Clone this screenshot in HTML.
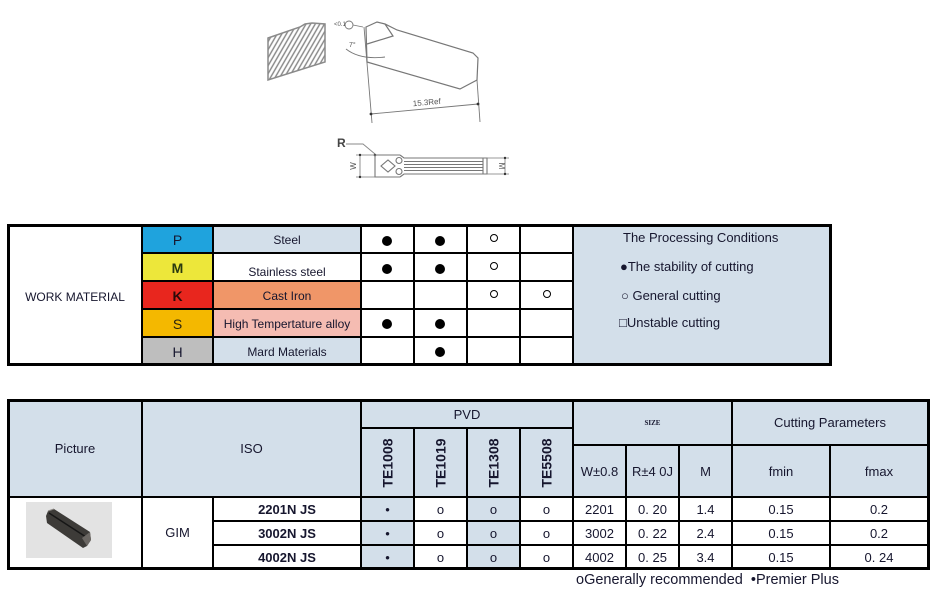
<!DOCTYPE html>
<html><head><meta charset="utf-8">
<style>
body{margin:0;width:933px;height:595px;background:#fff;position:relative;overflow:hidden;font-family:"Liberation Sans",Arial,sans-serif;color:#16162e}
.a{position:absolute}
.c{position:absolute;display:flex;align-items:center;justify-content:center;white-space:nowrap;font-size:12px}
.l{position:absolute;white-space:nowrap;font-size:13px;line-height:16px}
.h{position:absolute;height:2px;background:#000}
.v{position:absolute;width:2px;background:#000}
.fd{position:absolute;width:10px;height:10px;border-radius:50%;background:#000}
.hd{position:absolute;width:6px;height:6px;border-radius:50%;border:1px solid #000;background:#fff}
.b{font-weight:bold}
.r{display:inline-block;transform:rotate(-90deg);font-weight:bold;font-size:14px}
.t2{font-size:13px}
</style></head><body>

<!-- Technical drawing -->
<svg class="a" style="left:0;top:0" width="933" height="200" viewBox="0 0 933 200">
<defs>
<pattern id="hp" width="4" height="4" patternUnits="userSpaceOnUse" patternTransform="rotate(30)">
<line x1="1" y1="0" x2="1" y2="4" stroke="#858585" stroke-width="1.4"/>
</pattern>
</defs>
<polygon points="268,38 300,27 305,24 312,23 325,24 325,62 268,80" fill="url(#hp)" stroke="#8a8a8a" stroke-width="1.5"/>
<g fill="none" stroke="#777" stroke-width="1.2">
<polygon points="366,27 377,22 385,24 397,30 473,53 478,58 477,80 460,89 367,62"/>
<line x1="364" y1="27" x2="372" y2="123" stroke-width="0.9"/>
<polyline points="385,24 393,36 367,44"/>
<path d="M346,49 Q360,60 385,57" stroke-width="0.9"/>
<line x1="477" y1="80" x2="480" y2="122" stroke-width="0.9"/>
<line x1="371" y1="114" x2="478" y2="104" stroke-width="0.9"/>
<circle cx="349" cy="25" r="4" stroke-width="0.9"/>
<line x1="353" y1="25" x2="363" y2="27" stroke-width="0.8"/>
</g>
<circle cx="371" cy="114" r="1.4" fill="#333"/>
<circle cx="478" cy="104" r="1.4" fill="#333"/>
<text x="334" y="26" font-size="6" fill="#555" font-family="Liberation Sans">&lt;0.1</text>
<text x="349" y="47" font-size="7" fill="#555" font-family="Liberation Sans">7°</text>
<text x="427" y="105" font-size="8" fill="#555" font-family="Liberation Sans" text-anchor="middle" transform="rotate(-5 427 105)">15.3Ref</text>

<!-- bottom view -->
<text x="337" y="147" font-size="12" fill="#444" font-weight="bold" font-family="Liberation Sans">R</text>
<polyline points="346,144 363,144 375,154" fill="none" stroke="#888" stroke-width="0.9"/>
<circle cx="375" cy="155" r="1.3" fill="#333"/>
<g fill="none" stroke="#777" stroke-width="1.1">
<polyline points="400,155 375,155 375,177 400,177"/>
<polyline points="400,155 404,158 487,158 487,174 404,174 400,177"/>
<line x1="483" y1="158" x2="483" y2="174"/>
<polygon points="381,166 388,160 395,166 388,172"/>
<circle cx="399" cy="160.5" r="3"/>
<circle cx="399" cy="171.5" r="3"/>
<line x1="404" y1="161.5" x2="483" y2="161.5"/>
<line x1="404" y1="164.5" x2="483" y2="164.5"/>
<line x1="404" y1="167.5" x2="483" y2="167.5"/>
<line x1="404" y1="170.5" x2="483" y2="170.5"/>
<line x1="356" y1="155" x2="375" y2="155" stroke-width="0.8"/>
<line x1="356" y1="177" x2="375" y2="177" stroke-width="0.8"/>
<line x1="360" y1="155" x2="360" y2="177" stroke-width="0.8"/>
<line x1="487" y1="158" x2="509" y2="158" stroke-width="0.8"/>
<line x1="487" y1="174" x2="509" y2="174" stroke-width="0.8"/>
<line x1="505" y1="158" x2="505" y2="174" stroke-width="0.8"/>
</g>
<circle cx="360" cy="155" r="1.2" fill="#333"/>
<circle cx="360" cy="177" r="1.2" fill="#333"/>
<circle cx="505" cy="158" r="1.2" fill="#333"/>
<circle cx="505" cy="174" r="1.2" fill="#333"/>
<text x="356" y="166" font-size="8" fill="#555" font-family="Liberation Sans" text-anchor="middle" transform="rotate(-90 356 166)">W</text>
<text x="499" y="166" font-size="8" fill="#555" font-family="Liberation Sans" text-anchor="middle" transform="rotate(90 499 166)">M</text>
</svg>

<!-- TABLE 1 backgrounds -->
<div class="a" style="left:142px;top:225px;width:71px;height:28px;background:#1fa3dd"></div>
<div class="a" style="left:142px;top:253px;width:71px;height:28px;background:#ede73a"></div>
<div class="a" style="left:142px;top:281px;width:71px;height:28px;background:#e8261e"></div>
<div class="a" style="left:142px;top:309px;width:71px;height:28px;background:#f4b800"></div>
<div class="a" style="left:142px;top:337px;width:71px;height:28px;background:#bebebe"></div>
<div class="a" style="left:213px;top:225px;width:148px;height:28px;background:#d3dfea"></div>
<div class="a" style="left:213px;top:281px;width:148px;height:28px;background:#f09668"></div>
<div class="a" style="left:213px;top:309px;width:148px;height:28px;background:#f5bcb2"></div>
<div class="a" style="left:213px;top:337px;width:148px;height:28px;background:#d3dfea"></div>
<div class="a" style="left:573px;top:225px;width:257px;height:140px;background:#d3dfea"></div>

<!-- TABLE 1 text -->
<div class="c" style="left:8px;top:225px;width:134px;height:140px;padding-top:2px">WORK MATERIAL</div>
<div class="c" style="left:142px;top:226px;width:71px;height:28px;font-size:14px">P</div>
<div class="c b" style="left:142px;top:254px;width:71px;height:28px;font-size:14px;color:#2a3a10">M</div>
<div class="c b" style="left:142px;top:282px;width:71px;height:28px;font-size:14px;color:#2a0a0a">K</div>
<div class="c" style="left:142px;top:310px;width:71px;height:28px;font-size:14px;color:#2a2410">S</div>
<div class="c" style="left:142px;top:338px;width:71px;height:28px;font-size:14px">H</div>
<div class="c" style="left:213px;top:226px;width:148px;height:28px">Steel</div>
<div class="c" style="left:213px;top:258px;width:148px;height:28px">Stainless steel</div>
<div class="c" style="left:213px;top:282px;width:148px;height:28px">Cast Iron</div>
<div class="c" style="left:213px;top:310px;width:148px;height:28px">High Tempertature alloy</div>
<div class="c" style="left:213px;top:338px;width:148px;height:28px">Mard Materials</div>

<!-- dots -->
<div class="fd" style="left:382px;top:236px"></div>
<div class="fd" style="left:435px;top:236px"></div>
<div class="hd" style="left:490px;top:234px"></div>
<div class="fd" style="left:382px;top:264px"></div>
<div class="fd" style="left:435px;top:264px"></div>
<div class="hd" style="left:490px;top:262px"></div>
<div class="hd" style="left:490px;top:290px"></div>
<div class="hd" style="left:543px;top:290px"></div>
<div class="fd" style="left:382px;top:319px"></div>
<div class="fd" style="left:435px;top:319px"></div>
<div class="fd" style="left:435px;top:347px"></div>

<!-- legend -->
<div class="l" style="left:623px;top:230px">The Processing Conditions</div>
<div class="l" style="left:620px;top:259px">●The stability of cutting</div>
<div class="l" style="left:621px;top:288px">○ General cutting</div>
<div class="l" style="left:619px;top:315px">□Unstable cutting</div>

<!-- TABLE 1 lines -->
<div class="h" style="left:7px;top:224px;width:825px;height:3px"></div>
<div class="h" style="left:7px;top:363px;width:825px;height:3px"></div>
<div class="h" style="left:142px;top:252px;width:432px"></div>
<div class="h" style="left:142px;top:280px;width:432px"></div>
<div class="h" style="left:142px;top:308px;width:432px"></div>
<div class="h" style="left:142px;top:336px;width:432px"></div>
<div class="v" style="left:7px;top:224px;height:142px;width:3px"></div>
<div class="v" style="left:141px;top:224px;height:142px"></div>
<div class="v" style="left:212px;top:224px;height:142px"></div>
<div class="v" style="left:360px;top:224px;height:142px"></div>
<div class="v" style="left:413px;top:224px;height:142px"></div>
<div class="v" style="left:466px;top:224px;height:142px"></div>
<div class="v" style="left:519px;top:224px;height:142px"></div>
<div class="v" style="left:572px;top:224px;height:142px"></div>
<div class="v" style="left:829px;top:224px;height:142px;width:3px"></div>

<!-- TABLE 2 backgrounds -->
<div class="a" style="left:8px;top:400px;width:920px;height:97px;background:#d3dfea"></div>
<div class="a" style="left:361px;top:497px;width:53px;height:71px;background:#d3dfea"></div>
<div class="a" style="left:467px;top:497px;width:53px;height:71px;background:#d3dfea"></div>

<!-- picture -->
<div class="a" style="left:26px;top:502px;width:86px;height:56px;background:#e3e3e3"></div>
<svg class="a" style="left:26px;top:502px" width="86" height="56" viewBox="0 0 86 56">
<polygon points="22,9 28,7 64,30 65,38 61,44 57,46 21,21 20,14" fill="#3d3b38"/>
<line x1="23" y1="11" x2="60" y2="35" stroke="#161616" stroke-width="1.4"/>
<polygon points="56,36 64,30 65,38 61,44" fill="#6b6763"/>
<line x1="22" y1="9" x2="28" y2="7" stroke="#8a8682" stroke-width="1"/>
</svg>

<!-- TABLE 2 text -->
<div class="c t2" style="left:8px;top:400px;width:134px;height:97px">Picture</div>
<div class="c t2" style="left:142px;top:400px;width:219px;height:97px">ISO</div>
<div class="c t2" style="left:361px;top:400px;width:212px;height:28px">PVD</div>
<div class="c" style="left:361px;top:428px;width:53px;height:69px"><span class="r">TE1008</span></div>
<div class="c" style="left:414px;top:428px;width:53px;height:69px"><span class="r">TE1019</span></div>
<div class="c" style="left:467px;top:428px;width:53px;height:69px"><span class="r">TE1308</span></div>
<div class="c" style="left:520px;top:428px;width:53px;height:69px"><span class="r">TE5508</span></div>
<div class="c" style="left:573px;top:400px;width:159px;height:45px;font-size:7px;font-family:'Liberation Serif',serif;font-weight:bold">SIZE</div>
<div class="c t2" style="left:732px;top:400px;width:196px;height:45px">Cutting Parameters</div>
<div class="c t2" style="left:573px;top:445px;width:53px;height:52px">W±0.8</div>
<div class="c t2" style="left:626px;top:445px;width:53px;height:52px">R±4 0J</div>
<div class="c t2" style="left:679px;top:445px;width:53px;height:52px">M</div>
<div class="c t2" style="left:732px;top:445px;width:98px;height:52px">fmin</div>
<div class="c t2" style="left:830px;top:445px;width:98px;height:52px">fmax</div>

<div class="c t2" style="left:142px;top:497px;width:71px;height:71px">GIM</div>
<div class="c t2 b" style="left:213px;top:497px;width:148px;height:24px">2201N JS</div>
<div class="c t2 b" style="left:213px;top:521px;width:148px;height:24px">3002N JS</div>
<div class="c t2 b" style="left:213px;top:545px;width:148px;height:24px">4002N JS</div>

<div class="c t2" style="left:361px;top:497px;width:53px;height:24px">•</div>
<div class="c t2" style="left:414px;top:497px;width:53px;height:24px">o</div>
<div class="c t2" style="left:467px;top:497px;width:53px;height:24px">o</div>
<div class="c t2" style="left:520px;top:497px;width:53px;height:24px">o</div>
<div class="c t2" style="left:573px;top:497px;width:53px;height:24px">2201</div>
<div class="c t2" style="left:626px;top:497px;width:53px;height:24px">0. 20</div>
<div class="c t2" style="left:679px;top:497px;width:53px;height:24px">1.4</div>
<div class="c t2" style="left:732px;top:497px;width:98px;height:24px">0.15</div>
<div class="c t2" style="left:830px;top:497px;width:98px;height:24px">0.2</div>

<div class="c t2" style="left:361px;top:521px;width:53px;height:24px">•</div>
<div class="c t2" style="left:414px;top:521px;width:53px;height:24px">o</div>
<div class="c t2" style="left:467px;top:521px;width:53px;height:24px">o</div>
<div class="c t2" style="left:520px;top:521px;width:53px;height:24px">o</div>
<div class="c t2" style="left:573px;top:521px;width:53px;height:24px">3002</div>
<div class="c t2" style="left:626px;top:521px;width:53px;height:24px">0. 22</div>
<div class="c t2" style="left:679px;top:521px;width:53px;height:24px">2.4</div>
<div class="c t2" style="left:732px;top:521px;width:98px;height:24px">0.15</div>
<div class="c t2" style="left:830px;top:521px;width:98px;height:24px">0.2</div>

<div class="c t2" style="left:361px;top:545px;width:53px;height:24px">•</div>
<div class="c t2" style="left:414px;top:545px;width:53px;height:24px">o</div>
<div class="c t2" style="left:467px;top:545px;width:53px;height:24px">o</div>
<div class="c t2" style="left:520px;top:545px;width:53px;height:24px">o</div>
<div class="c t2" style="left:573px;top:545px;width:53px;height:24px">4002</div>
<div class="c t2" style="left:626px;top:545px;width:53px;height:24px">0. 25</div>
<div class="c t2" style="left:679px;top:545px;width:53px;height:24px">3.4</div>
<div class="c t2" style="left:732px;top:545px;width:98px;height:24px">0.15</div>
<div class="c t2" style="left:830px;top:545px;width:98px;height:24px">0. 24</div>

<!-- TABLE 2 lines -->
<div class="h" style="left:7px;top:399px;width:923px;height:3px"></div>
<div class="h" style="left:7px;top:567px;width:923px;height:3px"></div>
<div class="h" style="left:7px;top:496px;width:923px"></div>
<div class="h" style="left:361px;top:427px;width:212px"></div>
<div class="h" style="left:573px;top:444px;width:356px"></div>
<div class="h" style="left:213px;top:520px;width:716px"></div>
<div class="h" style="left:213px;top:544px;width:716px"></div>
<div class="v" style="left:7px;top:399px;height:171px;width:3px"></div>
<div class="v" style="left:141px;top:399px;height:171px"></div>
<div class="v" style="left:212px;top:496px;height:73px"></div>
<div class="v" style="left:360px;top:399px;height:171px"></div>
<div class="v" style="left:413px;top:427px;height:142px"></div>
<div class="v" style="left:466px;top:427px;height:142px"></div>
<div class="v" style="left:519px;top:427px;height:142px"></div>
<div class="v" style="left:572px;top:399px;height:171px"></div>
<div class="v" style="left:625px;top:444px;height:125px"></div>
<div class="v" style="left:678px;top:444px;height:125px"></div>
<div class="v" style="left:731px;top:399px;height:171px"></div>
<div class="v" style="left:829px;top:444px;height:125px"></div>
<div class="v" style="left:927px;top:399px;height:171px;width:3px"></div>

<!-- footer -->
<div class="l" style="left:576px;top:571px;font-size:14.5px;line-height:18px">oGenerally recommended&nbsp; •Premier Plus</div>

</body></html>
